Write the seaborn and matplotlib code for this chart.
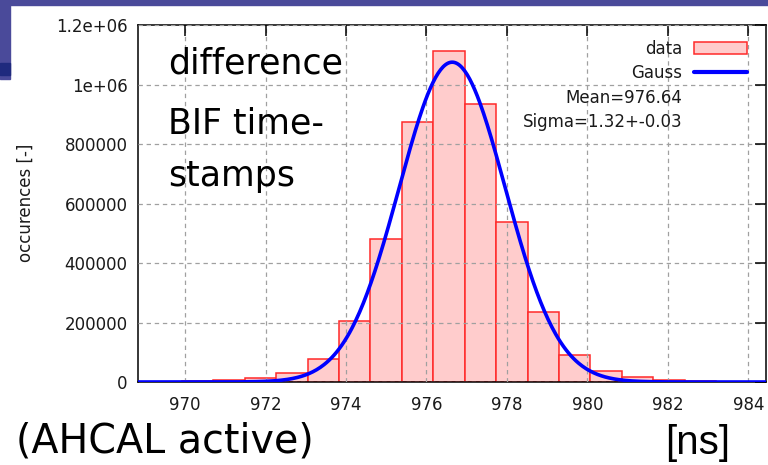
import numpy as np
import matplotlib
matplotlib.use("Agg")
import matplotlib.pyplot as plt
import seaborn as sns
from matplotlib.patches import Patch, Rectangle
from matplotlib.lines import Line2D

# histogram of BIF time-stamp differences (bin = 0.78125 ns)
time_ns = [969.53, 970.31, 971.09, 971.87, 972.65, 973.43, 974.22, 975.00,
           975.78, 976.56, 977.34, 978.12, 978.90, 979.68, 980.47, 981.25,
           982.03, 982.81, 983.59]
counts = [1000, 2500, 7000, 13000, 30000, 77000, 204000, 480000,
          874000, 1113000, 934000, 537000, 234000, 90000, 36000, 16000,
          6000, 2000, 1000]
bin_width = 0.78125

# gauss fit shown in the legend
fit_mean = 976.64
fit_sigma = 1.32
fit_ampl = 1.075e6

xticks = [970, 972, 974, 976, 978, 980, 982, 984]
yticks = [0, 200000, 400000, 600000, 800000, 1000000, 1200000]
ytick_labels = ["0", "200000", "400000", "600000", "800000", "1e+06", "1.2e+06"]

sns.set_theme(style="white")
plt.rcParams['font.family'] = ['DejaVu Sans']

fig = plt.figure(figsize=(7.68, 4.65), dpi=100)
fig.patch.set_facecolor("white")

# slide decoration (title bar remains)
fig.add_artist(Rectangle((0, 1 - 5/465), 1, 5/465, transform=fig.transFigure,
                         color="#4a4a9a", zorder=0))
fig.add_artist(Rectangle((0, 1 - 79/465), 10/768, 79/465, transform=fig.transFigure,
                         color="#4a4a9a", zorder=0))
fig.add_artist(Rectangle((0, 1 - 75/465), 10/768, 12/465, transform=fig.transFigure,
                         color="#1f2a7e", zorder=0))

ax = fig.add_axes([138/768, 83/465, (766 - 138)/768, (382 - 25)/465])

lo = time_ns[0] - bin_width/2
edges = [lo + i*bin_width for i in range(len(time_ns) + 1)]
sns.histplot(x=time_ns, weights=counts, bins=edges, ax=ax,
             color="#ffcccc", edgecolor="#ff2a2a", linewidth=1.1, alpha=1, zorder=1)

xs = np.linspace(968.8, 984.5, 500)
gauss = fit_ampl*np.exp(-0.5*((xs - fit_mean)/fit_sigma)**2)
sns.lineplot(x=xs, y=gauss, ax=ax, color="#0000ff", linewidth=2.6, zorder=3)

ax.set_xlim(968.83, 984.44)
ax.set_ylim(0, 1.2e6)
ax.set_xticks(xticks)
ax.set_xticklabels([str(t) for t in xticks])
ax.set_yticks(yticks)
ax.set_yticklabels(ytick_labels)
ax.set_xlabel("")
ax.set_ylabel("")
ax.set_axisbelow(False)
ax.grid(True, linestyle=(0, (3.5, 3)), color="#a0a0a0", linewidth=0.9)
for s in ax.spines.values():
    s.set_visible(True)
    s.set_color("black")
    s.set_linewidth(1.1)
ax.tick_params(direction="in", length=8, width=1.1, top=True, right=True,
               labelsize=12, colors="black", labelcolor="#1a1a1a")
ax.tick_params(axis="y", pad=7.5)
ax.tick_params(axis="x", pad=10)

handles = [Patch(facecolor="#ffcccc", edgecolor="#ff2a2a", linewidth=1.1),
           Line2D([], [], color="#0000ff", linewidth=3),
           Line2D([], [], color="none"),
           Line2D([], [], color="none")]
labels = ["data", "Gauss", "Mean=976.64", "Sigma=1.32+-0.03"]
ax.legend(handles, labels, loc="upper right", bbox_to_anchor=(0.970, 0.958),
          frameon=False, markerfirst=False, fontsize=12, handlelength=3.2,
          handletextpad=0.7, labelspacing=0.38, borderpad=0, borderaxespad=0,
          labelcolor="#1a1a1a")

fig.text(25.5/768, 1 - 203/465, "occurences [-]", rotation=90, fontsize=12,
         ha="center", va="center", color="#1a1a1a")

fig.text(168/768, 1 - 73/465, "difference", fontsize=25, va="baseline", color="black")
fig.text(168/768, 1 - 133/465, "BIF time-", fontsize=25, va="baseline", color="black")
fig.text(168/768, 1 - 186/465, "stamps", fontsize=25, va="baseline", color="black")

fig.text(314/768, 1 - 452/465, "(AHCAL active)", fontsize=28.5, ha="right",
         va="baseline", color="black")
fig.text(665/768, 1 - 454/465, "[ns]", fontsize=29, ha="left", va="baseline",
         color="black", family=["Liberation Sans", "DejaVu Sans"])

fig.savefig("out.png", dpi=100)
